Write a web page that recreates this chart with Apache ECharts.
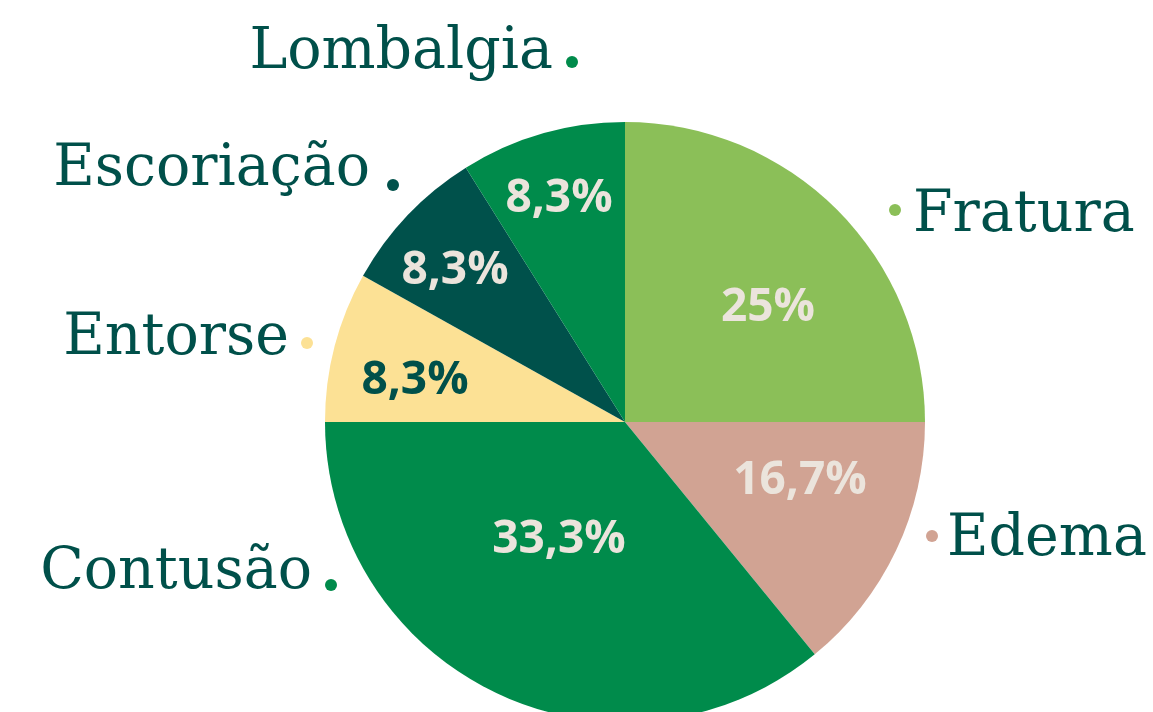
<!DOCTYPE html>
<html>
<head>
<meta charset="utf-8">
<script src="https://cdn.jsdelivr.net/npm/echarts@6/dist/echarts.min.js"></script>
<style>
  html, body { margin: 0; background: #fff; }
  #chart { width: 1153px; height: 712px; }
</style>
</head>
<body>
<div id="chart"></div>
<script>
// dados (tamanho das fatias como desenhadas)
const categories = ['Fratura', 'Edema', 'Contusão', 'Entorse', 'Escoriação', 'Lombalgia']
const values = [25, 14.1, 35.9, 8.1, 8.0, 8.9]
// porcentagens impressas nas fatias
const pctLabels = ['25%', '16,7%', '33,3%', '8,3%', '8,3%', '8,3%']

// cores das fatias e do texto
const colors = ['#8bbf58', '#d1a393', '#008b4b', '#fce195', '#00514b', '#008b4b']
const pctColors = ['#ebe4dc', '#ebe4dc', '#ebe4dc', '#00504a', '#ebe4dc', '#ebe4dc']
const textColor = '#00504a'

// onde ficam os rótulos (nome, porcentagem, ponto)
const namePos = [[913, 216, 'left'], [947, 540, 'left'], [312, 573, 'right'],
  [289, 339, 'right'], [370, 170, 'right'], [553, 53, 'right']]
const pctPos = [[768, 308], [800, 481], [559, 540], [415, 381], [455, 271], [559, 199]]
const dotPos = [[895, 210], [932, 536], [331, 585], [307, 343], [393, 185], [572, 62]]

const base = {
  type: 'pie',
  center: [625, 422],
  radius: 300,
  startAngle: 90,
  clockwise: true,
  avoidLabelOverlap: false,
  labelLine: { show: false },
  emphasis: { disabled: true }
}

const chart = echarts.init(document.getElementById('chart'))
chart.setOption({
  animation: false,
  series: [
    {
      ...base,
      data: categories.map((name, i) => ({
        name, value: values[i], itemStyle: { color: colors[i] }
      })),
      label: {
        show: true,
        position: 'inside',
        formatter: '{b}',
        fontFamily: 'DejaVu Serif',
        fontSize: 57,
        color: textColor
      },
      labelLayout: p => ({
        x: namePos[p.dataIndex][0],
        y: namePos[p.dataIndex][1],
        align: namePos[p.dataIndex][2],
        verticalAlign: 'middle'
      })
    },
    {
      ...base,
      silent: true,
      data: categories.map((name, i) => ({
        name, value: values[i],
        itemStyle: { color: 'transparent' },
        label: { color: pctColors[i] }
      })),
      label: {
        show: true,
        position: 'inside',
        formatter: p => pctLabels[p.dataIndex],
        fontFamily: 'Open Sans',
        fontWeight: 'bold',
        fontSize: 46
      },
      labelLayout: p => ({
        x: pctPos[p.dataIndex][0],
        y: pctPos[p.dataIndex][1],
        align: 'center',
        verticalAlign: 'middle'
      })
    },
    {
      ...base,
      silent: true,
      data: categories.map((name, i) => ({
        name, value: values[i],
        itemStyle: { color: 'transparent' },
        label: { backgroundColor: colors[i] }
      })),
      label: {
        show: true,
        position: 'inside',
        formatter: ' ',
        width: 12,
        height: 12,
        borderRadius: 6,
        padding: 0,
        fontSize: 1
      },
      labelLayout: p => ({
        x: dotPos[p.dataIndex][0],
        y: dotPos[p.dataIndex][1],
        align: 'center',
        verticalAlign: 'middle'
      })
    }
  ]
})
</script>
</body>
</html>
